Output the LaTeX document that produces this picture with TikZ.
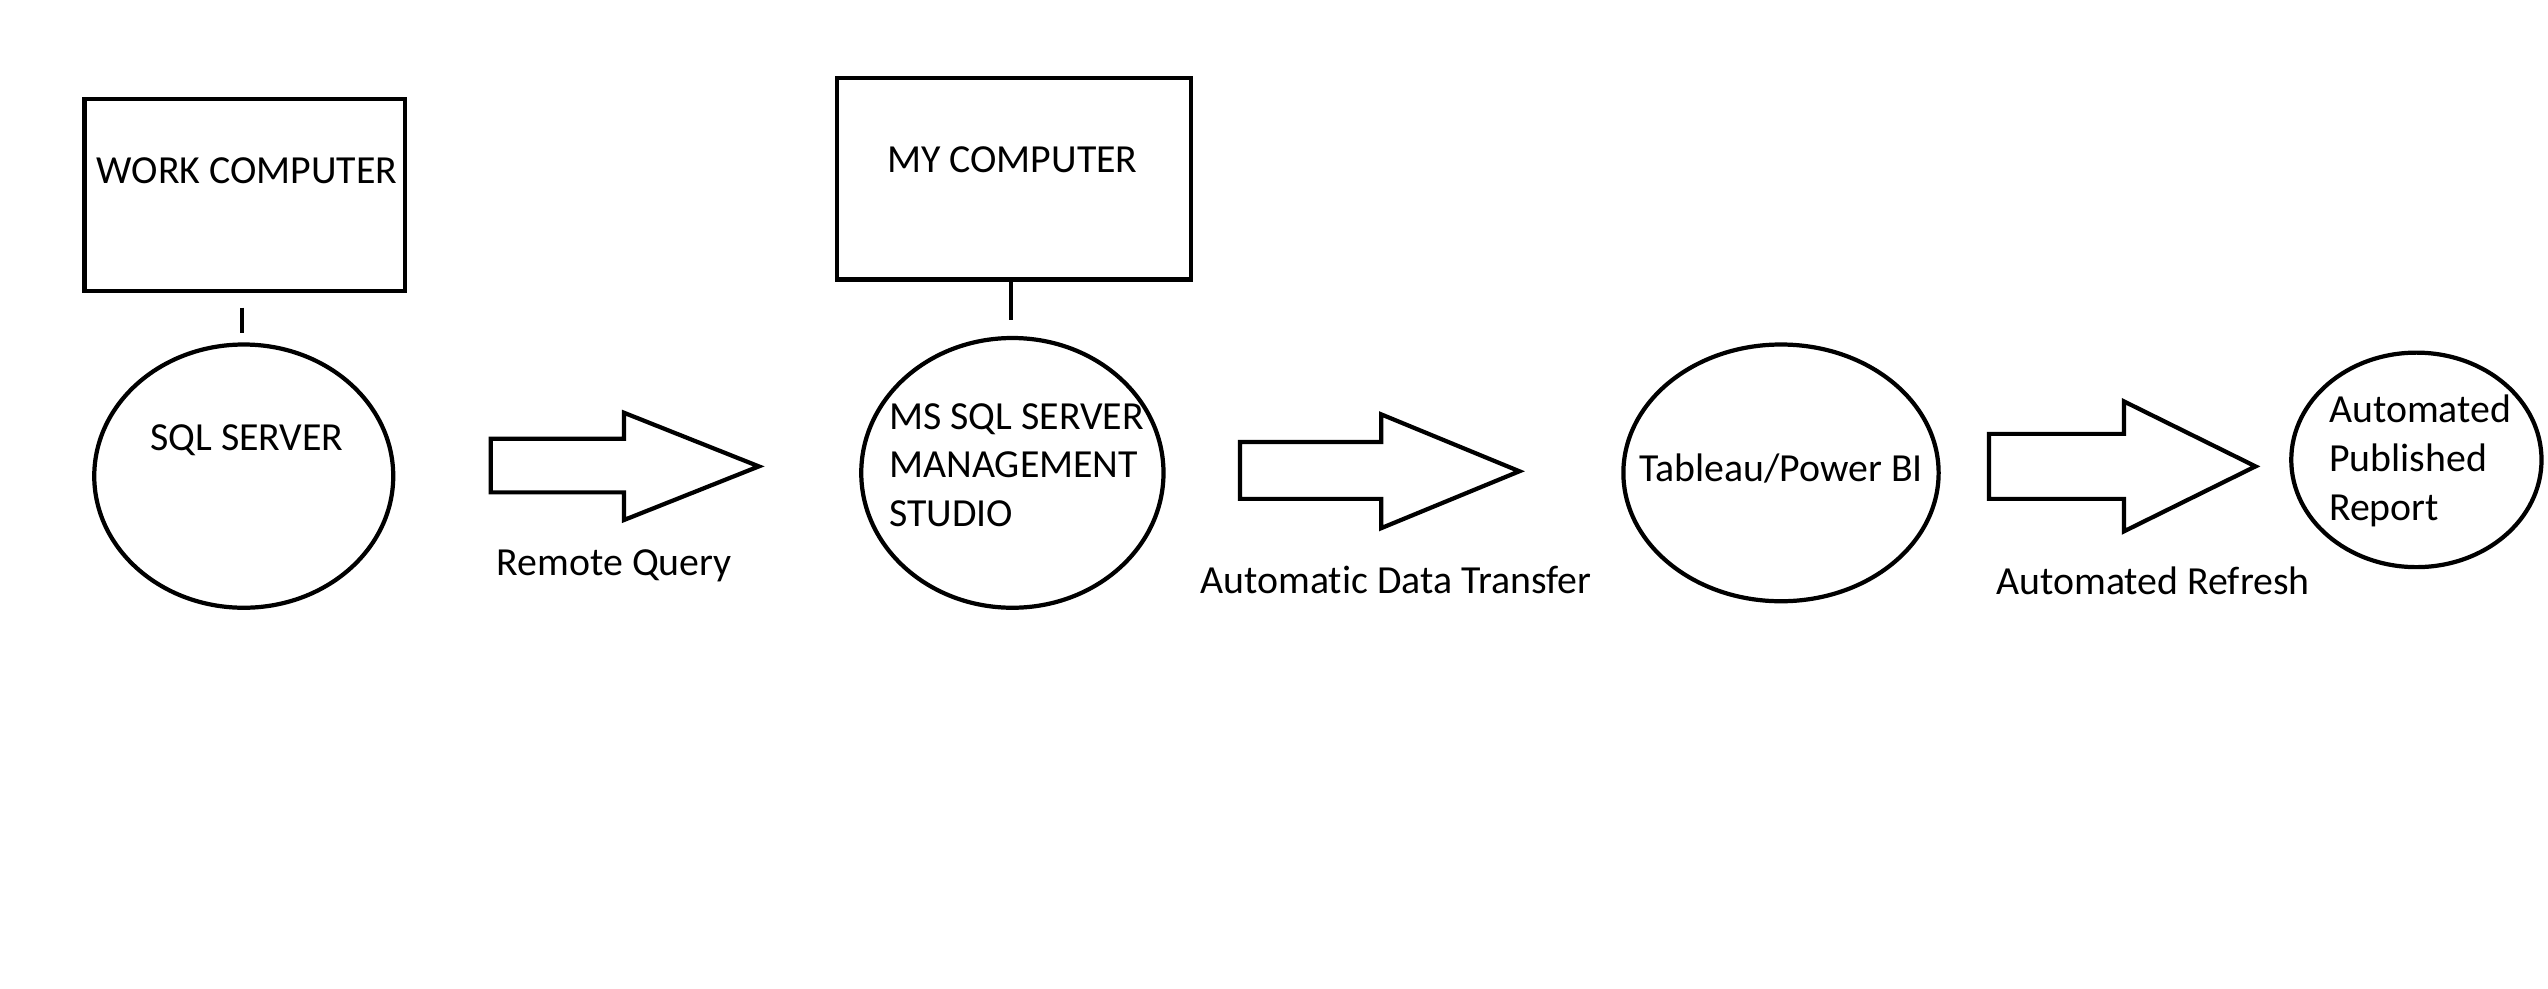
\documentclass[tikz,border=0pt]{standalone}
\usepackage{fontspec}
\setmainfont{Carlito}[Ligatures=NoCommon]
\usetikzlibrary{shapes.geometric}
\begin{document}
\begin{tikzpicture}[x=1pt,y=-1pt,
  line width=2.6pt,
  box/.style={draw, rectangle, inner sep=0pt},
  oval/.style={draw, ellipse, inner sep=0pt},
  txt/.style={font=\fontsize{24.5}{30}\selectfont, inner sep=0pt, anchor=base},
  ltxt/.style={txt, anchor=base west},
  blockarrow/.style={draw, line join=miter}
]
\useasboundingbox (0,0) rectangle (1568,608);
\fill[white] (0,0) rectangle (1568,608);

% boxes
\node[box, minimum width=197pt, minimum height=118pt] (wc) at (150.5,120) {};
\node[box, minimum width=218pt, minimum height=124pt] (mc) at (624,110) {};

% ellipses
\node[oval, minimum width=184pt, minimum height=162pt] (sql) at (150,293) {};
\node[oval, minimum width=186pt, minimum height=166pt] (mss) at (623,291) {};
\node[oval, minimum width=194pt, minimum height=158pt] (tab) at (1096,291) {};
\node[oval, minimum width=154pt, minimum height=132pt] (rep) at (1487,283) {};

% connectors between computers and servers
\draw ([xshift=-1.5pt,yshift=-9pt]wc.south) -- ([xshift=-1pt,yshift=6pt]sql.north);
\draw ([xshift=-2pt]mc.south) -- ([xshift=-1pt,yshift=10pt]mss.north);

% block arrows
\draw[blockarrow] (302,270) -- (384,270) -- (384,254) -- (467,287) -- (384,320) -- (384,303) -- (302,303) -- cycle;
\draw[blockarrow] (763,272) -- (850,272) -- (850,255) -- (935,290) -- (850,325) -- (850,307) -- (763,307) -- cycle;
\draw[blockarrow] (1224,267) -- (1307,267) -- (1307,247) -- (1388,287) -- (1307,327) -- (1307,307) -- (1224,307) -- cycle;

% texts
\node[txt] (twc) at (152,113) {WORK COMPUTER};
\node[txt] (tsql) at (152,277) {SQL SERVER};
\node[txt] (trq) at (378,354) {Remote Query};
\node[txt] (tmc) at (623,106) {MY COMPUTER};
\node[ltxt] (tms1) at (546,264) {MS SQL SERVER};
\node[ltxt] (tms2) at (546,294) {MANAGEMENT};
\node[ltxt] (tms3) at (546,324) {STUDIO};
\node[txt] (tadt) at (859,365) {Automat\kern0pt ic Data Transfer};
\node[txt] (ttab) at (1096,296) {Tableau/Power BI};
\node[txt] (tar) at (1325,366) {Automated Refresh};
\node[ltxt] (trep1) at (1432,260) {Automated};
\node[ltxt] (trep2) at (1432,290) {Published};
\node[ltxt] (trep3) at (1432,320) {Report};
\end{tikzpicture}
\end{document}
